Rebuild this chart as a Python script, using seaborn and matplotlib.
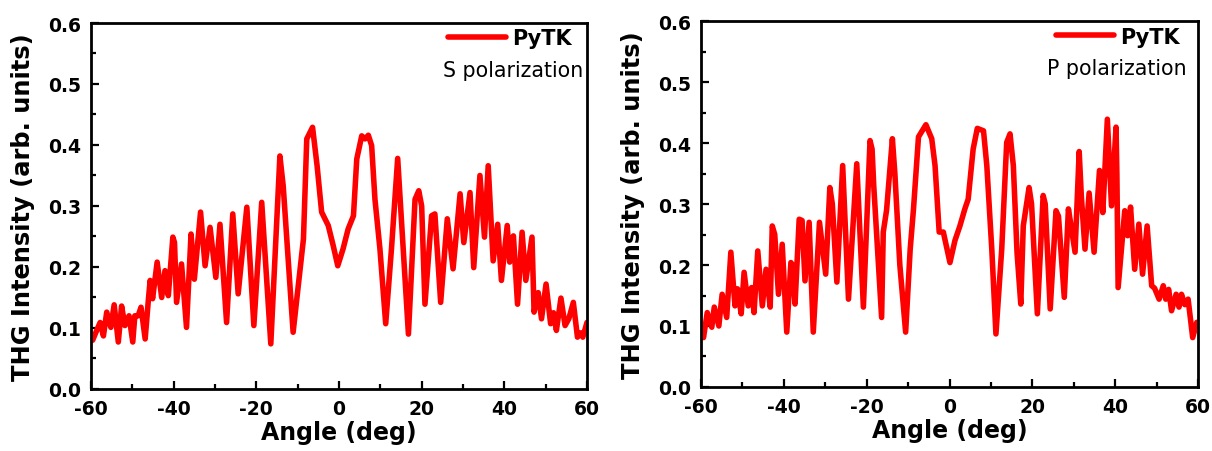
import matplotlib
matplotlib.use("Agg")
import pandas as pd
import matplotlib.pyplot as plt
import seaborn as sns
from matplotlib.ticker import MultipleLocator

# -----------------------------------
# Data
# -----------------------------------
s_angle = [-59.6, -59.0, -57.8, -57.0, -56.2, -55.2, -54.4, -53.4, -52.6, -51.8,
           -50.8, -49.9, -49.4, -48.6, -47.9, -46.9, -46.1, -45.7, -45.1, -44.0,
           -42.9, -42.1, -41.3, -40.2, -39.8, -39.3, -38.1, -36.9, -35.8, -35.0,
           -33.5, -32.4, -31.2, -29.8, -28.8, -27.2, -25.7, -24.4, -22.3, -20.6,
           -18.7, -16.5, -14.3, -13.5, -11.1, -8.6, -7.8, -6.4, -5.3, -4.2,
           -2.6, -1.4, -0.3, 1.0, 2.2, 3.5, 4.3, 5.5, 6.3, 7.1,
           7.9, 8.7, 9.9, 11.3, 12.7, 14.2, 14.9, 16.8, 18.4, 19.3,
           20.0, 20.8, 22.4, 23.2, 24.6, 26.2, 27.6, 29.3, 30.2, 31.7,
           32.6, 34.1, 35.2, 36.1, 37.3, 38.4, 39.3, 40.7, 41.3, 42.2,
           43.2, 44.3, 45.2, 46.7, 47.2, 48.2, 49.0, 50.1, 51.2, 51.9,
           52.6, 53.7, 54.7, 55.6, 56.7, 57.7, 58.5, 59.0, 60.0]
s_thg = [0.080, 0.090, 0.109, 0.087, 0.126, 0.101, 0.138, 0.077, 0.136, 0.104,
         0.120, 0.077, 0.120, 0.120, 0.134, 0.082, 0.148, 0.178, 0.148, 0.208,
         0.150, 0.194, 0.153, 0.249, 0.240, 0.142, 0.205, 0.101, 0.254, 0.180,
         0.290, 0.202, 0.265, 0.183, 0.270, 0.109, 0.287, 0.156, 0.298, 0.104,
         0.306, 0.074, 0.382, 0.333, 0.093, 0.246, 0.410, 0.429, 0.366, 0.290,
         0.268, 0.235, 0.202, 0.230, 0.262, 0.284, 0.377, 0.415, 0.410, 0.416,
         0.399, 0.311, 0.230, 0.107, 0.230, 0.378, 0.300, 0.090, 0.311, 0.325,
         0.300, 0.139, 0.284, 0.287, 0.142, 0.279, 0.197, 0.320, 0.240, 0.322,
         0.199, 0.350, 0.249, 0.366, 0.210, 0.270, 0.178, 0.268, 0.208, 0.251,
         0.139, 0.257, 0.178, 0.249, 0.126, 0.158, 0.115, 0.172, 0.107, 0.125,
         0.096, 0.149, 0.104, 0.115, 0.142, 0.085, 0.092, 0.085, 0.109]

p_angle = [-59.8, -59.4, -58.5, -57.4, -56.8, -55.7, -54.9, -53.8, -52.8, -51.8,
           -51.2, -50.3, -49.6, -48.6, -47.8, -47.2, -46.3, -45.2, -44.3, -43.3,
           -42.8, -42.2, -41.3, -40.4, -39.3, -38.3, -37.9, -37.3, -36.3, -35.6,
           -34.9, -33.9, -32.9, -31.4, -29.9, -28.9, -28.3, -27.2, -25.8, -24.4,
           -22.4, -20.8, -19.2, -18.7, -18.3, -16.4, -16.0, -15.2, -13.8, -13.2,
           -12.0, -10.6, -9.5, -8.7, -7.5, -5.7, -4.3, -3.5, -2.5, -1.5,
           0.1, 1.3, 2.5, 3.7, 4.5, 5.7, 6.7, 8.2, 9.0, 10.2,
           11.2, 12.6, 13.8, 14.6, 15.4, 16.3, 17.2, 17.8, 19.2, 19.8,
           21.2, 22.6, 23.1, 24.3, 25.7, 26.3, 27.7, 28.7, 29.2, 30.3,
           31.3, 31.8, 32.7, 33.7, 34.9, 36.2, 37.0, 38.1, 39.1, 40.2,
           40.4, 40.7, 42.3, 43.0, 43.7, 44.7, 45.7, 46.6, 47.7, 48.8,
           49.5, 50.6, 51.6, 52.2, 52.9, 53.6, 54.7, 55.4, 56.0, 56.8,
           57.6, 58.7, 59.7]
p_thg = [0.090, 0.081, 0.122, 0.098, 0.131, 0.100, 0.152, 0.114, 0.221, 0.133,
         0.161, 0.120, 0.188, 0.133, 0.163, 0.122, 0.223, 0.133, 0.193, 0.131,
         0.264, 0.250, 0.152, 0.234, 0.090, 0.204, 0.200, 0.136, 0.275, 0.273,
         0.174, 0.270, 0.090, 0.270, 0.185, 0.327, 0.300, 0.172, 0.363, 0.144,
         0.366, 0.131, 0.404, 0.390, 0.330, 0.114, 0.254, 0.290, 0.407, 0.350,
         0.200, 0.090, 0.226, 0.292, 0.410, 0.430, 0.407, 0.363, 0.254, 0.254,
         0.204, 0.240, 0.264, 0.292, 0.308, 0.390, 0.424, 0.420, 0.363, 0.226,
         0.087, 0.226, 0.401, 0.415, 0.363, 0.220, 0.136, 0.264, 0.327, 0.300,
         0.120, 0.314, 0.300, 0.128, 0.289, 0.280, 0.147, 0.292, 0.270, 0.221,
         0.386, 0.315, 0.226, 0.318, 0.221, 0.355, 0.286, 0.439, 0.297, 0.426,
         0.350, 0.163, 0.289, 0.248, 0.295, 0.193, 0.267, 0.185, 0.264, 0.166,
         0.162, 0.144, 0.166, 0.144, 0.160, 0.125, 0.152, 0.131, 0.152, 0.135,
         0.144, 0.081, 0.106]

series_name = "PyTK"
pol_labels = ["S polarization", "P polarization"]
x_label = "Angle (deg)"
y_label = "THG Intensity (arb. units)"

# -----------------------------------
# Plot Style
# -----------------------------------
sns.set_style("ticks")
plt.rcParams["font.family"] = ["DejaVu Sans"]
plt.rcParams["axes.unicode_minus"] = False
plt.rcParams["text.color"] = "black"
plt.rcParams["axes.labelcolor"] = "black"
plt.rcParams["xtick.color"] = "black"
plt.rcParams["ytick.color"] = "black"

fig = plt.figure(figsize=(12.12, 4.52), dpi=100)

panels = [
    (s_angle, s_thg, pol_labels[0], [0.0751, 0.1372, 0.4092, 0.8097], 0.970, 0.992),
    (p_angle, p_thg, pol_labels[1], [0.5784, 0.1416, 0.4101, 0.8097], 0.964, 0.977),
]

for angle, thg, pol, pos, leg_x, txt_x in panels:
    ax = fig.add_axes(pos)
    df = pd.DataFrame({"Angle": angle, "THG": thg})

    sns.lineplot(
        data=df,
        x="Angle",
        y="THG",
        color="#ff0000",
        lw=4.0,
        label=series_name,
        estimator=None,
        sort=False,
        solid_joinstyle="round",
        solid_capstyle="round",
        ax=ax,
    )

    ax.set_xlim(-60, 60)
    ax.set_ylim(0, 0.6)
    ax.xaxis.set_major_locator(MultipleLocator(20))
    ax.xaxis.set_minor_locator(MultipleLocator(10))
    ax.yaxis.set_major_locator(MultipleLocator(0.1))
    ax.yaxis.set_minor_locator(MultipleLocator(0.05))
    ax.yaxis.set_major_formatter(plt.FormatStrFormatter("%.1f"))

    for sp in ax.spines.values():
        sp.set_linewidth(2)
        sp.set_color("black")

    ax.tick_params(which="major", direction="in", length=6, width=1.6,
                   labelsize=13.5, pad=7, colors="black")
    ax.tick_params(which="minor", direction="in", length=3.5, width=1.6,
                   colors="black")
    for lab in ax.get_xticklabels() + ax.get_yticklabels():
        lab.set_fontweight("bold")

    ax.set_xlabel(x_label, fontsize=17, fontweight="bold")
    ax.set_ylabel(y_label, fontsize=17.4, fontweight="bold")
    ax.xaxis.set_label_coords(0.5, -0.085)
    ax.yaxis.set_label_coords(-0.113, 0.5)

    leg = ax.legend(
        loc="upper right",
        bbox_to_anchor=(leg_x, 0.985),
        frameon=False,
        borderpad=0,
        borderaxespad=0,
        handlelength=2.8,
        handletextpad=0.3,
        prop={"size": 15, "weight": "bold"},
    )
    for line in leg.get_lines():
        line.set_linewidth(4.0)

    ax.text(txt_x, 0.855, pol, transform=ax.transAxes, ha="right",
            va="baseline", fontsize=14.8)

fig.savefig("out.png", dpi=100)
plt.close(fig)
